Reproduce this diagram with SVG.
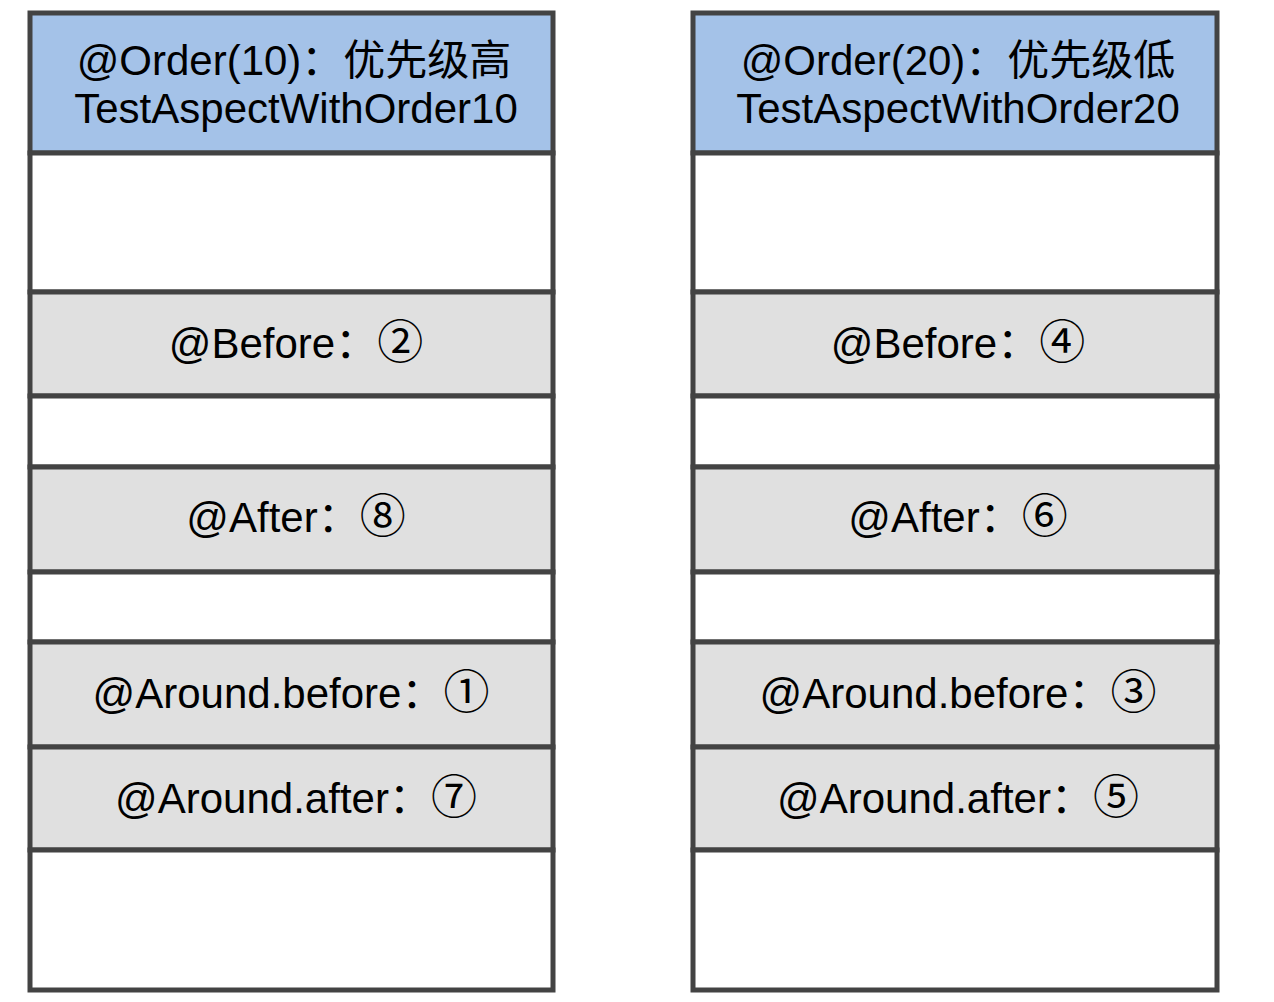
<svg xmlns="http://www.w3.org/2000/svg" width="1274" height="1002" viewBox="0 0 1274 1002">
<style>
.cell{stroke:#434343;stroke-width:5;}
.blue{fill:#a4c2e8;}
.grey{fill:#e0e0e0;}
.white{fill:#ffffff;}
.t{font-family:"Liberation Sans","Noto Sans CJK SC",Arial,sans-serif;font-size:42px;fill:#000000;text-anchor:middle;}
.n{font-size:46px;}
</style>
<rect width="1274" height="1002" fill="#ffffff"/>
<g id="col-order10">
<g id="l-header"><rect class="cell blue" x="30" y="13" width="523" height="140"/>
<text class="t" x="294" y="75">@Order(10)：优先级高</text>
<text class="t" x="296" y="123">TestAspectWithOrder10</text></g>
<g id="l-empty1"><rect class="cell white" x="30" y="153" width="523" height="139"/></g>
<g id="l-before"><rect class="cell grey" x="30" y="292" width="523" height="104"/>
<text class="t" x="296" y="358">@Before：<tspan class="n">②</tspan></text></g>
<g id="l-empty2"><rect class="cell white" x="30" y="396" width="523" height="71"/></g>
<g id="l-after"><rect class="cell grey" x="30" y="467" width="523" height="105"/>
<text class="t" x="296" y="532">@After：<tspan class="n">⑧</tspan></text></g>
<g id="l-empty3"><rect class="cell white" x="30" y="572" width="523" height="70"/></g>
<g id="l-around-before"><rect class="cell grey" x="30" y="642" width="523" height="105"/>
<text class="t" x="291" y="708">@Around.before：<tspan class="n">①</tspan></text></g>
<g id="l-around-after"><rect class="cell grey" x="30" y="747" width="523" height="103"/>
<text class="t" x="296" y="813">@Around.after：<tspan class="n">⑦</tspan></text></g>
<g id="l-empty4"><rect class="cell white" x="30" y="850" width="523" height="140"/></g>
</g>
<g id="col-order20">
<g id="r-header"><rect class="cell blue" x="693" y="13" width="524" height="140"/>
<text class="t" x="958" y="75">@Order(20)：优先级低</text>
<text class="t" x="958" y="123">TestAspectWithOrder20</text></g>
<g id="r-empty1"><rect class="cell white" x="693" y="153" width="524" height="139"/></g>
<g id="r-before"><rect class="cell grey" x="693" y="292" width="524" height="104"/>
<text class="t" x="958" y="358">@Before：<tspan class="n">④</tspan></text></g>
<g id="r-empty2"><rect class="cell white" x="693" y="396" width="524" height="71"/></g>
<g id="r-after"><rect class="cell grey" x="693" y="467" width="524" height="105"/>
<text class="t" x="958" y="532">@After：<tspan class="n">⑥</tspan></text></g>
<g id="r-empty3"><rect class="cell white" x="693" y="572" width="524" height="70"/></g>
<g id="r-around-before"><rect class="cell grey" x="693" y="642" width="524" height="105"/>
<text class="t" x="958" y="708">@Around.before：<tspan class="n">③</tspan></text></g>
<g id="r-around-after"><rect class="cell grey" x="693" y="747" width="524" height="103"/>
<text class="t" x="958" y="813">@Around.after：<tspan class="n">⑤</tspan></text></g>
<g id="r-empty4"><rect class="cell white" x="693" y="850" width="524" height="140"/></g>
</g>
<g id="connectors"></g>
</svg>
